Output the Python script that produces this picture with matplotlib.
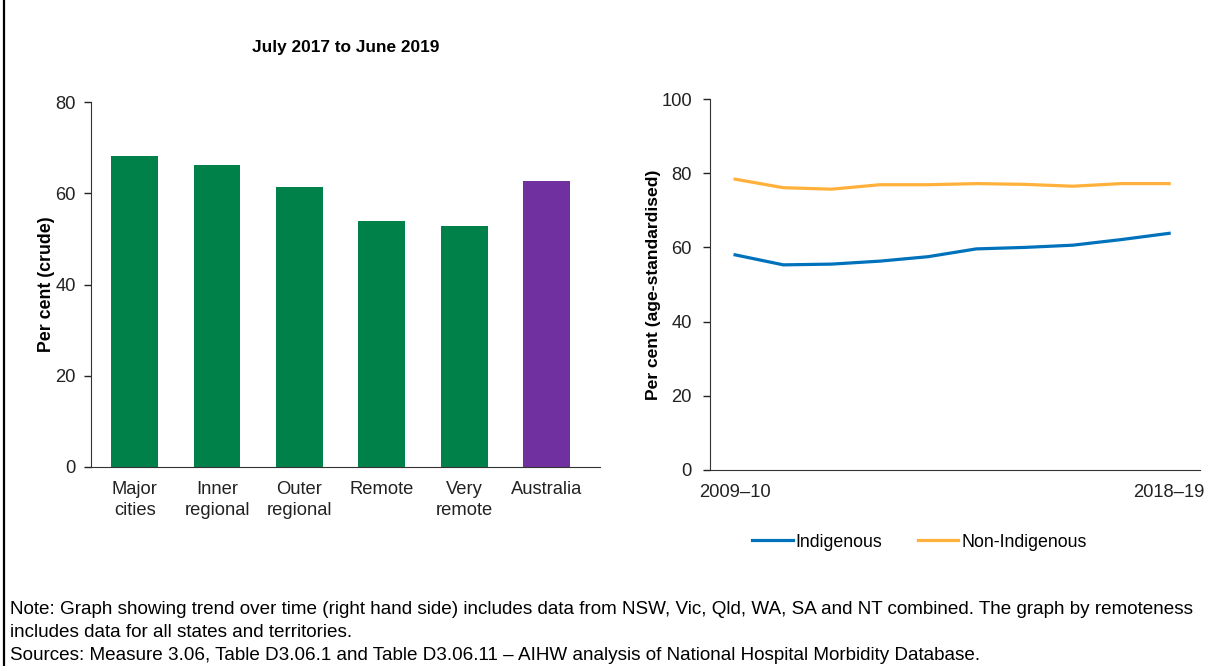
import matplotlib
matplotlib.use("Agg")
import matplotlib.pyplot as plt
from matplotlib.lines import Line2D

plt.rcParams['font.family'] = ['Liberation Sans', 'DejaVu Sans']

# remoteness bars, July 2017 to June 2019
areas = ["Major\ncities", "Inner\nregional", "Outer\nregional", "Remote", "Very\nremote", "Australia"]
area_pct = [68.2, 66.2, 61.4, 53.9, 52.8, 62.7]
bar_colors = ["#00814A"] * 5 + ["#7030A0"]

# trend over time
years = ["2009–10", "2010–11", "2011–12", "2012–13", "2013–14",
         "2014–15", "2015–16", "2016–17", "2017–18", "2018–19"]
indigenous = [58.0, 55.3, 55.5, 56.3, 57.5, 59.6, 60.0, 60.6, 62.1, 63.8]
non_indigenous = [78.4, 76.1, 75.7, 76.9, 76.9, 77.2, 77.0, 76.5, 77.2, 77.2]

notes = [
    "Note: Graph showing trend over time (right hand side) includes data from NSW, Vic, Qld, WA, SA and NT combined. "
    "The graph by remoteness",
    "includes data for all states and territories.",
    "Sources: Measure 3.06, Table D3.06.1 and Table D3.06.11 – AIHW analysis of National Hospital Morbidity Database.",
]

TICK_FS = 13.2
fig = plt.figure(figsize=(12.21, 6.66), dpi=100)

ax1 = fig.add_axes([0.0745, 0.2988, 0.417, 0.548])
ax1.bar(range(len(areas)), area_pct, width=0.57, color=bar_colors)
ax1.set_xlim(-0.53, 5.65)
ax1.set_ylim(0, 80)
ax1.set_yticks([0, 20, 40, 60, 80])
ax1.set_xticks(range(len(areas)))
ax1.set_xticklabels(areas, linespacing=1.3)
ax1.tick_params(axis="x", length=0, pad=10, labelsize=TICK_FS, colors="#222222")
ax1.tick_params(axis="y", length=5, width=1, pad=6, labelsize=TICK_FS, colors="#222222")
ax1.set_ylabel("Per cent (crude)", fontsize=12.8, fontweight="bold", labelpad=0)
ax1.set_title("July 2017 to June 2019", fontsize=12.4, fontweight="bold", pad=36)
for s in ["top", "right"]:
    ax1.spines[s].set_visible(False)

ax2 = fig.add_axes([0.5815, 0.2943, 0.4013, 0.557])
x = list(range(len(years)))
l1, = ax2.plot(x, indigenous, color="#0072BB", lw=2.3, label="Indigenous")
l2, = ax2.plot(x, non_indigenous, color="#FFB13B", lw=2.3, label="Non-Indigenous")
ax2.set_xlim(-0.52, 9.64)
ax2.set_ylim(0, 100)
ax2.set_yticks([0, 20, 40, 60, 80, 100])
ax2.set_xticks([0, 9])
ax2.set_xticklabels([years[0], years[-1]])
ax2.tick_params(axis="x", length=0, pad=10, labelsize=TICK_FS, colors="#222222")
ax2.tick_params(axis="y", length=5, width=1, pad=8, labelsize=TICK_FS, colors="#222222")
ax2.set_ylabel("Per cent (age-standardised)", fontsize=12.6, fontweight="bold", labelpad=0)
for s in ["top", "right"]:
    ax2.spines[s].set_visible(False)
for ax in (ax1, ax2):
    ax.spines["left"].set_color("#333333")
    ax.spines["bottom"].set_color("#333333")

fig.legend(handles=[l1, l2], loc="center", bbox_to_anchor=(0.7527, 0.186), ncol=2,
           frameon=False, fontsize=12.8, handlelength=2.3, handletextpad=0.15,
           columnspacing=2.0)

# note and source lines under both panels
for i, line in enumerate(notes):
    fig.text(0.0082, 1 - (609 + 23.5 * i) / 666, line, fontsize=13.6, ha="left", va="center")

# frame line down the left edge
fig.add_artist(Line2D([0.0029, 0.0029], [0, 1], transform=fig.transFigure, color="black", lw=1.6))

fig.savefig("out.png", dpi=100)
